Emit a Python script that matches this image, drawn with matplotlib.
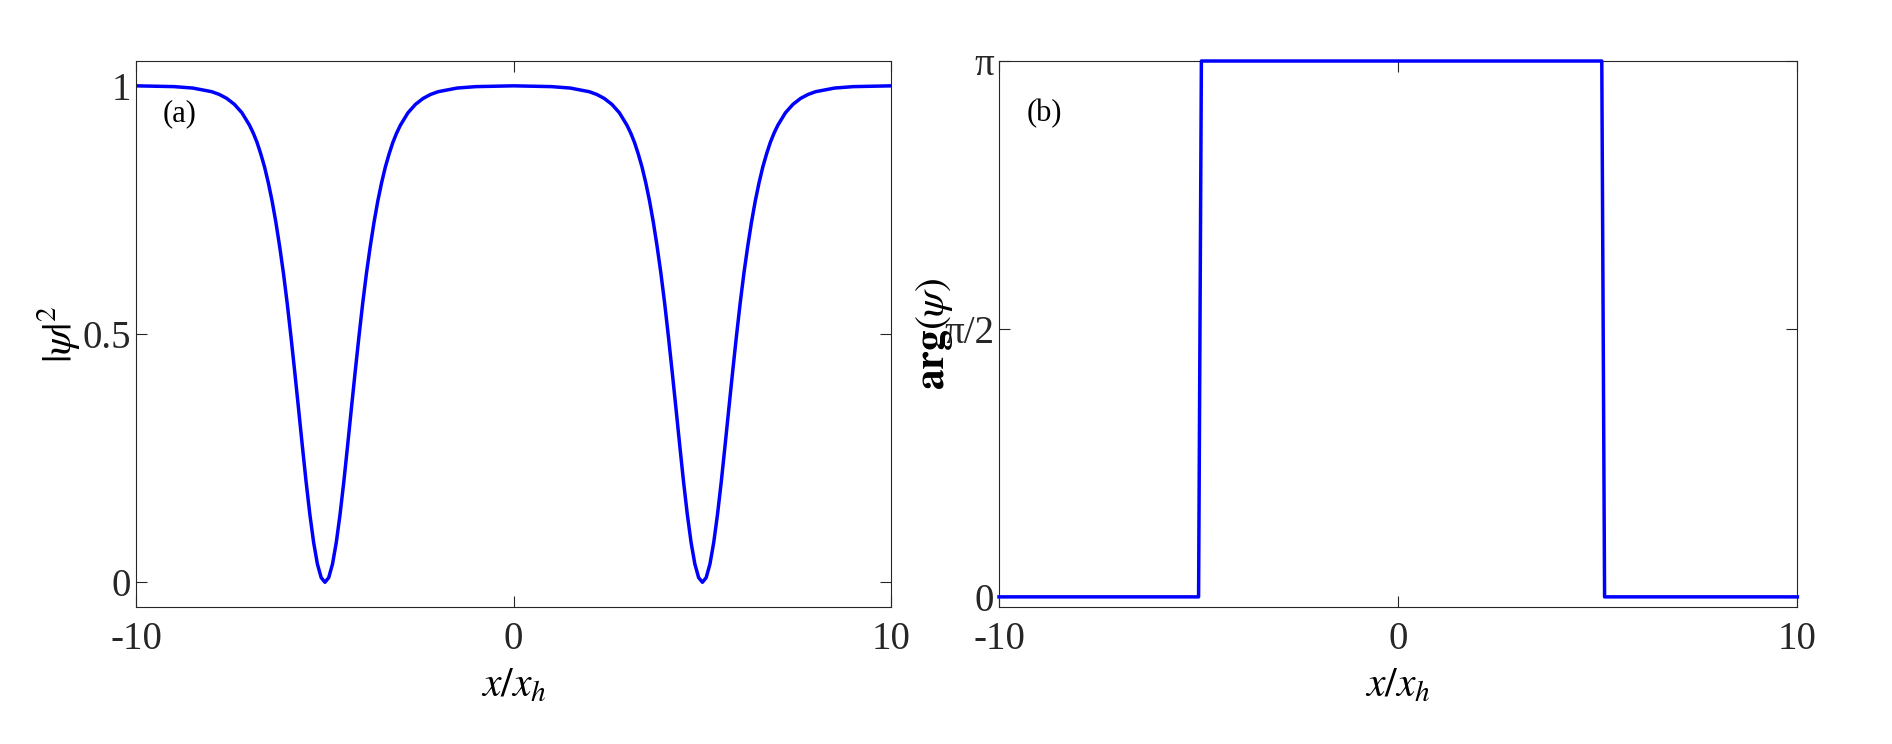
import numpy as np
import matplotlib
matplotlib.use("Agg")
import matplotlib.pyplot as plt

plt.rcParams['font.family'] = ['Liberation Serif', 'DejaVu Serif']
plt.rcParams['mathtext.fontset'] = 'stix'

# |psi|^2: offsets from dip centre and values
dip_offsets = [0, 0.1, 0.2, 0.3, 0.4, 0.5, 0.6, 0.7, 0.8, 0.9, 1.0, 1.1, 1.2, 1.3, 1.4,
               1.5, 1.6, 1.7, 1.8, 1.9, 2.0, 2.2, 2.4, 2.6, 2.8, 3.0, 3.5, 4.0, 5.0]
dip_values = [0, 0.0094, 0.0368, 0.0802, 0.1368, 0.2027, 0.2753, 0.3499, 0.4234, 0.4945,
              0.5619, 0.6227, 0.6765, 0.7251, 0.7679, 0.8046, 0.8365, 0.8629, 0.8862,
              0.9050, 0.9208, 0.9458, 0.9628, 0.9746, 0.9827, 0.9882, 0.9955, 0.9984, 1.0]
dip_centres = [-5.0, 5.0]

# phase panel (b)
phase_x = [-10, -5.0, -4.93, 5.1, 5.17, 10]
phase_y = [0, 0, np.pi, np.pi, 0, 0]

xs, ys = [], []
for c in dip_centres:
    for d, v in zip(dip_offsets[::-1], dip_values[::-1]):
        xs.append(c - d); ys.append(v)
    for d, v in zip(dip_offsets[1:], dip_values[1:]):
        xs.append(c + d); ys.append(v)
order = np.argsort(xs)
xs = np.array(xs)[order]; ys = np.array(ys)[order]

fig = plt.figure(figsize=(18.92, 7.44), dpi=100)
ax1 = fig.add_axes([0.072, 0.184, 0.399, 0.734])
ax2 = fig.add_axes([0.528, 0.184, 0.422, 0.734])

blue = '#0000ff'
ax1.plot(xs, ys, color=blue, lw=2.5)
ax2.plot(phase_x, phase_y, color=blue, lw=2.5, clip_on=False, zorder=5)

ax1.set_xlim(-10, 10); ax1.set_ylim(-0.05, 1.05)
ax1.set_xticks([-10, 0, 10]); ax1.set_xticklabels(['-10', '0', '10'])
ax1.set_yticks([0, 0.5, 1]); ax1.set_yticklabels(['0', '0.5', '1'])
ax1.set_ylabel(r'$|\psi|^2$', fontsize=30, labelpad=0)
ax1.set_xlabel(r'$x/x_h$', fontsize=30, labelpad=6)
ax1.text(0.035, 0.93, '(a)', transform=ax1.transAxes, fontsize=22, va='top')

ax2.set_xlim(-10, 10); ax2.set_ylim(-0.06, np.pi)
ax2.set_xticks([-10, 0, 10]); ax2.set_xticklabels(['-10', '0', '10'])
ax2.set_yticks([0, np.pi / 2, np.pi]); ax2.set_yticklabels(['0', 'π/2', 'π'])
ax2.set_ylabel(r'$\mathbf{arg}(\psi)$', fontsize=30, labelpad=-8)
ax2.set_xlabel(r'$x/x_h$', fontsize=30, labelpad=6)
ax2.text(0.035, 0.93, '(b)', transform=ax2.transAxes, fontsize=22, va='top')

for ax in (ax1, ax2):
    ax.tick_params(direction='in', top=True, right=True, labelsize=28, length=8,
                   width=0.8, colors='#262626')
    ax.tick_params(axis='x', pad=10)
    for s in ax.spines.values():
        s.set_linewidth(0.8); s.set_color('#262626')

fig.savefig('out.png', dpi=100)
